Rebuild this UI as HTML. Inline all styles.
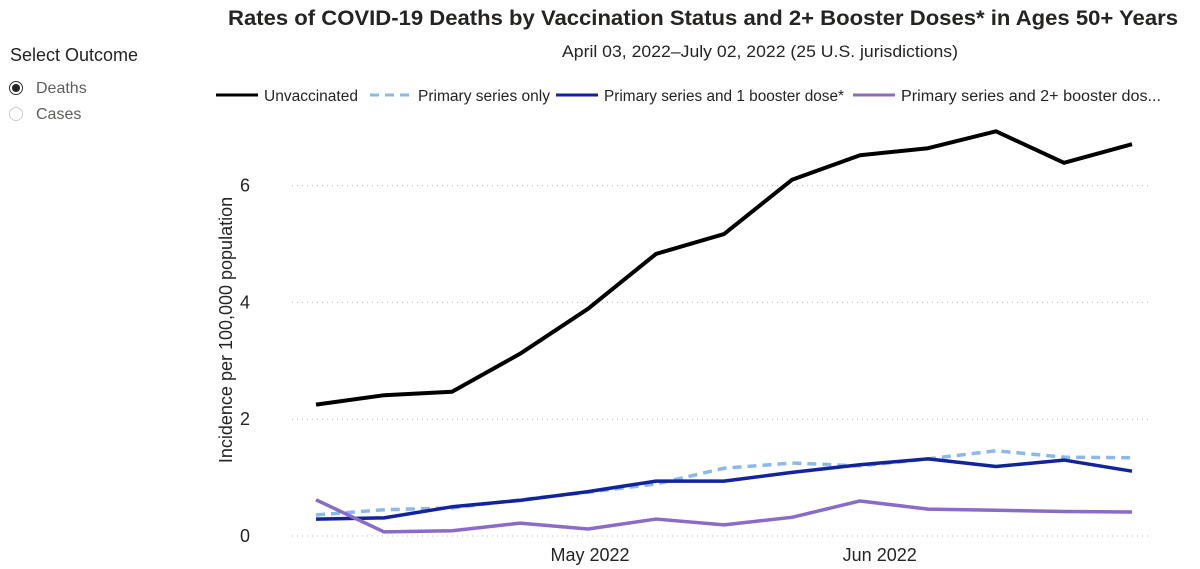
<!DOCTYPE html>
<html><head><meta charset="utf-8"><style>
body{margin:0;width:1200px;height:569px;background:#fff;overflow:hidden;font-family:"Liberation Sans",sans-serif;position:relative}
.t{position:absolute;white-space:nowrap}
</style></head><body>
<div class="t" style="left:10px;top:45px;font-size:18px;color:#252423">Select Outcome</div>
<div class="t" style="left:9px;top:80px;font-size:16px;color:#605e5c">
<span style="display:inline-block;width:12px;height:12px;border:1.5px solid #333;border-radius:50%;vertical-align:-2px;position:relative;margin-right:13px"><span style="position:absolute;left:2px;top:2px;width:8px;height:8px;border-radius:50%;background:#252423"></span></span>Deaths</div>
<div class="t" style="left:9px;top:106px;font-size:16px;color:#605e5c">
<span style="display:inline-block;width:12px;height:12px;border:1.5px solid #ccc;border-radius:50%;vertical-align:-2px;margin-right:13px"></span>Cases</div>
<svg id="c" width="1200" height="569" style="position:absolute;left:0;top:0">
<text x="228" y="25" font-size="21" font-weight="bold" fill="#252423" font-family="Liberation Sans, sans-serif" textLength="950" lengthAdjust="spacingAndGlyphs">Rates of COVID-19 Deaths by Vaccination Status and 2+ Booster Doses* in Ages 50+ Years</text>
<text x="562" y="57" font-size="17" fill="#252423" font-family="Liberation Sans, sans-serif" textLength="396" lengthAdjust="spacingAndGlyphs">April 03, 2022–July 02, 2022 (25 U.S. jurisdictions)</text>
</svg>
<script>
const categories=["Apr 09","Apr 16","Apr 23","Apr 30","May 07","May 14","May 21","May 28","Jun 04","Jun 11","Jun 18","Jun 25","Jul 02"];
const unvaccinated=[2.25,2.41,2.47,3.12,3.89,4.83,5.17,6.10,6.52,6.64,6.93,6.39,6.71];
const primaryOnly=[0.36,0.45,0.48,0.62,0.75,0.89,1.16,1.25,1.20,1.32,1.46,1.35,1.34];
const oneBooster=[0.29,0.31,0.50,0.61,0.76,0.94,0.94,1.09,1.22,1.32,1.19,1.30,1.11];
const twoBooster=[0.62,0.07,0.09,0.22,0.12,0.29,0.19,0.32,0.60,0.46,0.44,0.42,0.41];
const yTicks=[0,2,4,6];
const xTickLabels=["May 2022","Jun 2022"];
const xTickIdx=[4.03,8.29];
const NS="http://www.w3.org/2000/svg",svg=document.getElementById("c");
const x=i=>316+i*68, y=v=>536-58.4*v;
const FF="Liberation Sans, sans-serif";
function el(t,a,txt){const e=document.createElementNS(NS,t);for(const k in a)e.setAttribute(k,a[k]);if(txt!==undefined)e.textContent=txt;svg.appendChild(e);return e;}
yTicks.forEach(v=>{
 const g=el("line",{x1:292,x2:1150,y1:y(v),y2:y(v),stroke:"#c8c8c8","stroke-dasharray":"1 4","stroke-width":1.3});
 
 
 const t=el("text",{x:250,y:y(v)+6,"text-anchor":"end","font-size":18,fill:"#252423","font-family":FF},String(v));
 
 
});
xTickLabels.forEach((l,i)=>{
 const t=el("text",{x:x(xTickIdx[i]),y:561,"text-anchor":"middle","font-size":18,fill:"#252423","font-family":FF},l);
 
 
});
const yt=el("text",{transform:"translate(232,330) rotate(-90)","text-anchor":"middle","font-size":18,fill:"#252423","font-family":FF},"Incidence per 100,000 population");


const series=[
 {n:"Unvaccinated",d:unvaccinated,c:"#000000",dash:null,w:4},
 {n:"Primary series only",d:primaryOnly,c:"#8ab8ef",dash:"9 6",w:3.5},
 {n:"Primary series and 1 booster dose*",d:oneBooster,c:"#12239e",dash:null,w:3.5},
 {n:"Primary series and 2+ booster dos...",d:twoBooster,c:"#8b6bc8",dash:null,w:3.5}];
const legX=[216,370,556,853];
const legW=[94,132,240,260];
series.forEach((s,k)=>{
 const p=el("polyline",{points:s.d.map((v,i)=>x(i)+","+y(v)).join(" "),fill:"none",stroke:s.c,"stroke-width":s.w,"stroke-linejoin":"round"});
 if(s.dash)p.setAttribute("stroke-dasharray",s.dash);
 
 
 const l=el("line",{x1:legX[k],x2:legX[k]+42,y1:95,y2:95,stroke:s.c,"stroke-width":3});
 if(s.dash)l.setAttribute("stroke-dasharray","9 6");
 
 
 const t=el("text",{x:legX[k]+48,y:101,"font-size":15.5,fill:"#252423","font-family":FF,textLength:legW[k],lengthAdjust:"spacingAndGlyphs"},s.n);
 
 
});
</script>
</body></html>
